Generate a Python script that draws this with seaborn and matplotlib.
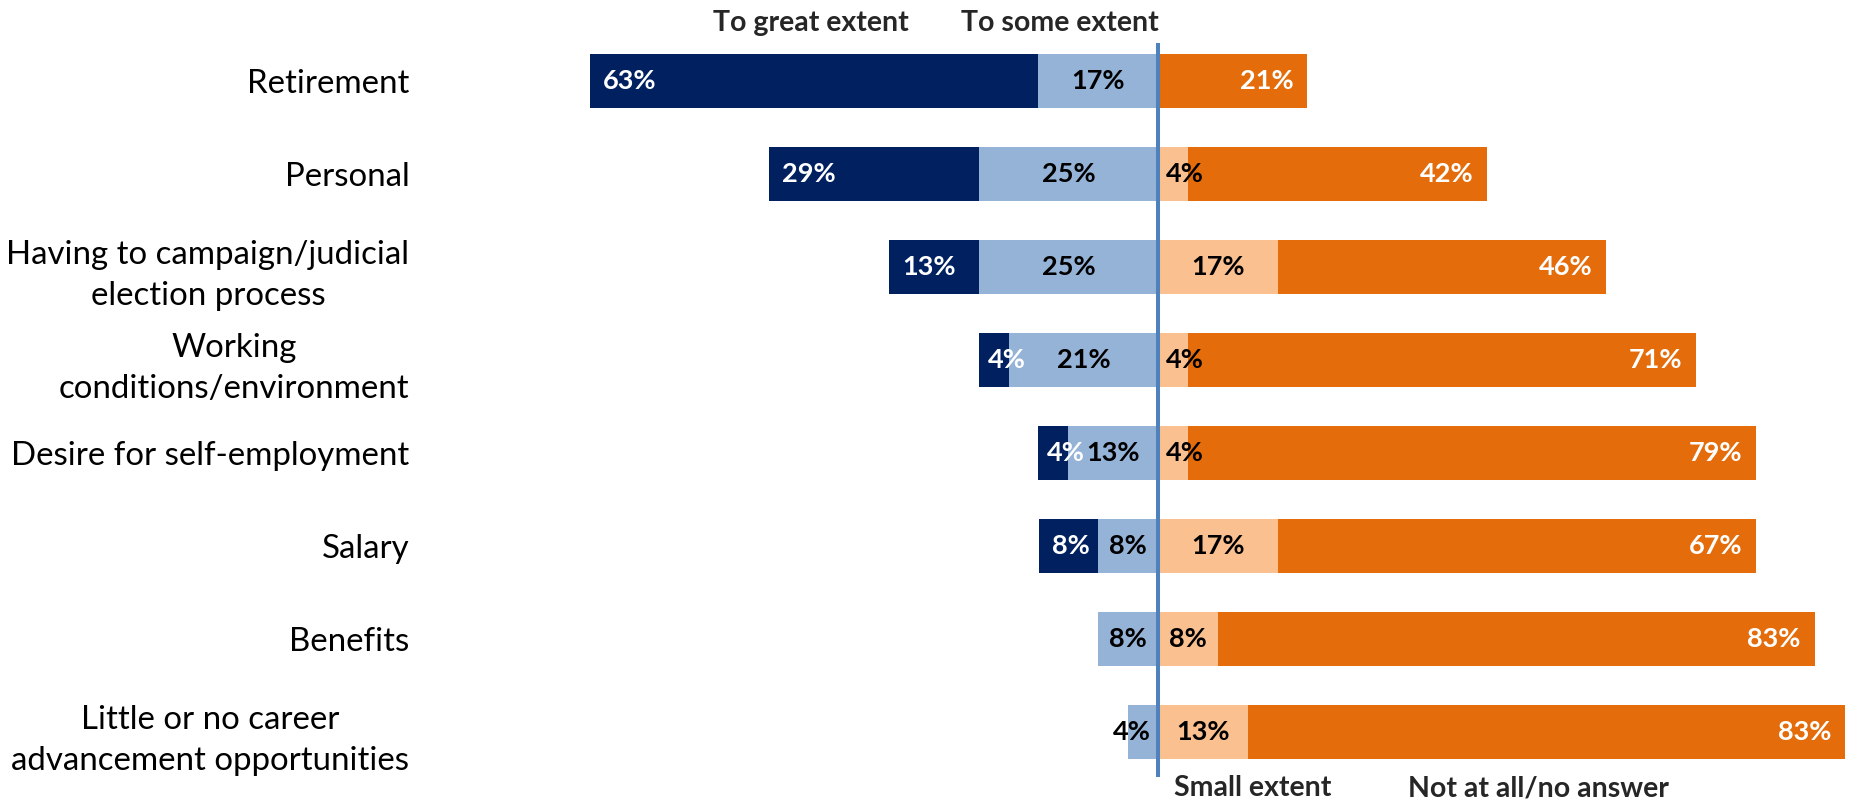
import numpy as np
import matplotlib
matplotlib.use("Agg")
import matplotlib.pyplot as plt
import seaborn as sns

# ---------------- data ----------------
categories = [
    "Retirement",
    "Personal",
    "Having to campaign/judicial\nelection process",
    "Working\nconditions/environment",
    "Desire for self-employment",
    "Salary",
    "Benefits",
    "Little or no career\nadvancement opportunities",
]
great_extent = [62.5, 29.2, 12.5, 4.2, 4.2, 8.3, 0.0, 0.0]
some_extent = [16.7, 25.0, 25.0, 20.8, 12.5, 8.3, 8.3, 4.2]
small_extent = [0.0, 4.2, 16.7, 4.2, 4.2, 16.7, 8.3, 12.5]
not_at_all = [20.8, 41.7, 45.8, 70.8, 79.2, 66.7, 83.3, 83.3]
header_labels = ["To great extent", "To some extent"]
footer_labels = ["Small extent", "Not at all/no answer"]

# ---------------- style ----------------
NAVY = "#002060"
LIGHT_BLUE = "#95B3D7"
PEACH = "#FAC090"
ORANGE = "#E46C0A"
LINE = "#4F81BD"

sns.set_style("white")
plt.rcParams["font.family"] = ["Lato", "DejaVu Sans"]

W, H = 1853, 802
fig = plt.figure(figsize=(W / 100, H / 100), dpi=100)
ax_left_px, ax_top_px, ax_bot_px = 415, 43, 777
ax = fig.add_axes([ax_left_px / W, (H - ax_bot_px) / H,
                   (W - ax_left_px) / W, (ax_bot_px - ax_top_px) / H])

great = np.array(great_extent)
some = np.array(some_extent)
small = np.array(small_extent)
notat = np.array(not_at_all)

bar_w = 0.58
common = dict(y=categories, order=categories, orient="h", saturation=1,
              width=bar_w, ax=ax, linewidth=0)
sns.barplot(x=-(great + some), color=NAVY, **common)
sns.barplot(x=-some, color=LIGHT_BLUE, **common)
sns.barplot(x=small + notat, color=ORANGE, **common)
sns.barplot(x=small, color=PEACH, **common)

px_per_pct = 7.17
center_px = 1158
ax.set_xlim(-(center_px - ax_left_px) / px_per_pct, (W - center_px) / px_per_pct)
row_px = 93.0
ax.set_ylim(7 + (ax_bot_px - 732) / row_px, -(81 - ax_top_px) / row_px)

ax.axvline(0, color=LINE, lw=2.9, zorder=5)

def lab(v):
    return f"{int(np.floor(v + 0.5))}%"

fs_val = 19.5
txt = dict(va="center", fontsize=fs_val, fontweight="bold")
pad_end = 13 / px_per_pct
pad_small = 7 / px_per_pct
min_fit = 42 / px_per_pct
for i in range(len(categories)):
    g, s, sm, na = great[i], some[i], small[i], notat[i]
    if g > 0:
        ax.text(-(g + s) + pad_end * (1 if g >= 6 else 0.7), i, lab(g),
                ha="left", color="white", zorder=6, **txt)
    if s > 0:
        if s >= min_fit:
            ax.text(-s / 2, i, lab(s), ha="center", color="black", zorder=6, **txt)
        else:
            ax.text(-pad_small, i, lab(s), ha="right", color="black", zorder=6, **txt)
    if sm > 0:
        if sm >= min_fit:
            ax.text(sm / 2, i, lab(sm), ha="center", color="black", zorder=6, **txt)
        else:
            ax.text(pad_small * 1.2, i, lab(sm), ha="left", color="black", zorder=6, **txt)
    if na > 0:
        ax.text(sm + na - 14 / px_per_pct, i, lab(na), ha="right",
                color="white", zorder=6, **txt)

# headers / footers
fs_hdr = 20.5
fig.text(811 / W, 1 - 31 / H, header_labels[0], ha="center", va="baseline",
         fontsize=fs_hdr, fontweight="bold")
fig.text(1060 / W, 1 - 31 / H, header_labels[1], ha="center", va="baseline",
         fontsize=fs_hdr, fontweight="bold")
fig.text(1174 / W, 1 - 796 / H, footer_labels[0], ha="left", va="baseline",
         fontsize=fs_hdr, fontweight="bold")
fig.text(1408 / W, 1 - 796 / H, footer_labels[1], ha="left", va="baseline",
         fontsize=fs_hdr, fontweight="bold")

ax.set_xticks([])
ax.set_xlabel("")
ax.set_ylabel("")
ax.tick_params(axis="y", length=0, pad=4, labelsize=23.8, labelcolor="black")
for t in ax.get_yticklabels():
    t.set_multialignment("center")
    t.set_linespacing(1.45)
sns.despine(ax=ax, left=True, bottom=True)
ax.patch.set_alpha(0)

fig.savefig("out.png", dpi=100, facecolor="white")
